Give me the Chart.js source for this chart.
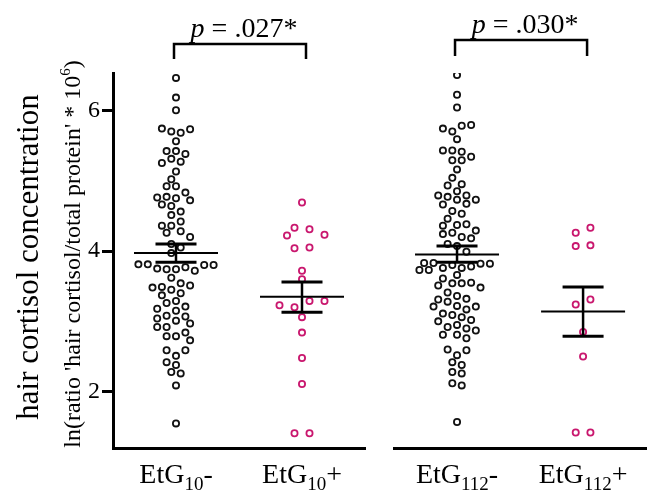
<!DOCTYPE html>
<html>
<head>
<meta charset="utf-8">
<script src="https://cdn.jsdelivr.net/npm/chart.js@4.4.1/dist/chart.umd.min.js"></script>
<style>
  html, body { margin: 0; padding: 0; background: #fff; }
  #wrap { position: relative; width: 651px; height: 492px; }
  #wrap canvas { position: absolute; left: 0; top: 0; }
</style>
</head>
<body>
<div id="wrap">
  <canvas id="left" width="651" height="492"></canvas>
  <canvas id="right" width="651" height="492"></canvas>
</div>
<script>
// group labels: [base, subscript, sign]
const groupLabels = [["EtG", "10", "-"], ["EtG", "10", "+"], ["EtG", "112", "-"], ["EtG", "112", "+"]]

// individual values (roughly left to right within a row)
const etg10Neg = [
  6.46, 6.18, 6.00,
  5.74, 5.70, 5.68, 5.73, 5.56,
  5.42, 5.42, 5.38, 5.31, 5.27, 5.25, 5.13,
  5.02, 4.92, 4.92, 4.83, 4.75, 4.77, 4.66, 4.72, 4.76, 4.64,
  4.56, 4.51, 4.42, 4.36, 4.36, 4.28, 4.26, 4.20,
  4.10, 4.05, 3.97,
  3.81, 3.81, 3.75, 3.74, 3.74, 3.77, 3.72, 3.80, 3.80,
  3.62,
  3.45, 3.54, 3.49, 3.51, 3.48,
  3.40, 3.37, 3.26, 3.29,
  3.18, 3.21, 3.15, 3.08, 3.07,
  3.01, 3.04, 2.92, 2.97, 2.92,
  2.79, 2.79, 2.84, 2.73,
  2.59, 2.51, 2.59, 2.42, 2.38, 2.28, 2.26, 2.09, 1.55
]
const etg10Pos = [4.69, 4.33, 4.31, 4.22, 4.23, 4.04, 4.05, 3.72, 3.60, 3.23, 3.20, 3.29, 3.29, 3.06, 2.84, 2.48, 2.11, 1.41, 1.41]
const etg112Neg = [
  6.50, 6.22, 6.04,
  5.74, 5.70, 5.78, 5.79, 5.59,
  5.43, 5.43, 5.41, 5.34, 5.29, 5.29, 5.16,
  5.04, 4.95, 4.93, 4.85, 4.77, 4.73, 4.79, 4.79, 4.73, 4.67, 4.66,
  4.57, 4.53, 4.46, 4.37, 4.36, 4.38, 4.29, 4.24, 4.26, 4.20, 4.18,
  4.07, 4.10, 3.99,
  3.83, 3.83, 3.76, 3.73, 3.73, 3.80, 3.76, 3.78, 3.82, 3.82,
  3.66, 3.61,
  3.51, 3.54, 3.54, 3.55, 3.48, 3.41, 3.36,
  3.28, 3.32, 3.31, 3.17, 3.21, 3.22, 3.21,
  3.11, 3.09, 3.06, 3.02, 3.00, 2.95, 2.92, 2.90,
  2.81, 2.81, 2.87, 2.76,
  2.60, 2.52, 2.59, 2.42, 2.38, 2.28, 2.26, 2.12, 2.09, 1.57
]
const etg112Pos = [4.26, 4.33, 4.07, 4.08, 3.24, 3.31, 2.85, 2.50, 1.42, 1.42]

// mean and SEM limits per group
const means = [3.97, 3.35, 3.95, 3.14]
const semHigh = [4.10, 3.56, 4.07, 3.49]
const semLow = [3.84, 3.13, 3.84, 2.79]

const yTicks = [2, 4, 6]
const pTexts = [".027*", ".030*"]

const groupValues = [etg10Neg, etg10Pos, etg112Neg, etg112Pos]
const dotColors = ["#111111", "#c9176e", "#111111", "#c9176e"]
const dotSpacing = [9.4, 15, 9.4, 14.7]
const SERIF = "'Liberation Serif', 'Times New Roman', serif"

// scatter spread: near-equal values try a centred row first,
// otherwise each point takes the nearest free slot (beeswarm)
function swarm(values, pxX, pxY, spacing, rowGap, hitGap) {
  const order = values.map((v, i) => i).sort((a, b) => values[b] - values[a])
  const rows = []
  order.forEach(i => {
    const row = rows[rows.length - 1]
    if (row && (values[row[0]] - values[i]) * pxY < rowGap) row.push(i)
    else rows.push([i])
  })

  const placed = []
  const offsets = new Array(values.length).fill(0)
  const hits = (x, y) => placed.some(p => ((p.x - x) / spacing) ** 2 + ((p.y - y) / hitGap) ** 2 < 0.999)

  rows.forEach(row => {
    row.sort((a, b) => a - b)
    const sym = row.map((i, k) => (k - (row.length - 1) / 2) * spacing)
    if (!row.some((i, k) => hits(sym[k], values[i] * pxY))) {
      row.forEach((i, k) => {
        offsets[i] = sym[k]
        placed.push({ x: sym[k], y: values[i] * pxY })
      })
      return
    }
    row.forEach(i => {
      const py = values[i] * pxY
      for (let k = 0; k < 60; k++) {
        const step = k === 0 ? 0 : (k % 2 ? -1 : 1) * Math.ceil(k / 2) * spacing / 2
        if (!hits(step, py)) {
          offsets[i] = step
          placed.push({ x: step, y: py })
          break
        }
      }
    })
  })
  return offsets.map(o => o / pxX)
}

const decorations = {
  id: "decorations",
  afterDatasetsDraw(chart, args, opts) {
    const { ctx, scales: { x, y } } = chart
    ctx.save()
    ctx.strokeStyle = "#000"
    ctx.fillStyle = "#000"

    opts.groups.forEach((g, pos) => {
      const cx = x.getPixelForValue(pos)
      // mean line
      ctx.lineWidth = 2
      ctx.beginPath()
      ctx.moveTo(cx - 42, y.getPixelForValue(means[g]))
      ctx.lineTo(cx + 42, y.getPixelForValue(means[g]))
      ctx.stroke()
      // SEM
      ctx.lineWidth = 2.5
      ctx.beginPath()
      ctx.moveTo(cx, y.getPixelForValue(semHigh[g]))
      ctx.lineTo(cx, y.getPixelForValue(semLow[g]))
      ctx.stroke()
      ctx.lineWidth = 3
      ;[semHigh[g], semLow[g]].forEach(v => {
        ctx.beginPath()
        ctx.moveTo(cx - 20.5, y.getPixelForValue(v))
        ctx.lineTo(cx + 20.5, y.getPixelForValue(v))
        ctx.stroke()
      })

      // category label with subscript
      const [base, sub, sign] = groupLabels[g]
      ctx.font = "28px " + SERIF
      const wBase = ctx.measureText(base).width
      const wSign = ctx.measureText(sign).width
      ctx.font = "19px " + SERIF
      const wSub = ctx.measureText(sub).width
      let lx = cx - (wBase + wSub + wSign) / 2
      const by = 483
      ctx.textAlign = "left"
      ctx.textBaseline = "alphabetic"
      ctx.font = "28px " + SERIF
      ctx.fillText(base, lx, by)
      lx += wBase
      ctx.font = "19px " + SERIF
      ctx.fillText(sub, lx, by + 7)
      lx += wSub
      ctx.font = "28px " + SERIF
      ctx.fillText(sign, lx, by)
    })

    // significance bracket
    const b = opts.bracket
    const x0 = x.getPixelForValue(0) - 2
    const x1 = x.getPixelForValue(1) + 4
    ctx.lineWidth = 2.5
    ctx.beginPath()
    ctx.moveTo(x0, b.bottom)
    ctx.lineTo(x0, b.top)
    ctx.lineTo(x1, b.top)
    ctx.lineTo(x1, b.bottom)
    ctx.stroke()

    ctx.font = "italic 28px " + SERIF
    const wp = ctx.measureText("p").width
    ctx.font = "28px " + SERIF
    const rest = " = " + b.text
    const wr = ctx.measureText(rest).width
    let tx = (x0 + x1) / 2 + 4 - (wp + wr) / 2
    ctx.textAlign = "left"
    ctx.font = "italic 28px " + SERIF
    ctx.fillText("p", tx, b.textY)
    ctx.font = "28px " + SERIF
    ctx.fillText(rest, tx + wp, b.textY)
    ctx.restore()
  }
}

const yTitle = {
  id: "yTitle",
  afterDraw(chart) {
    const { ctx } = chart
    ctx.save()
    ctx.fillStyle = "#000"
    ctx.textBaseline = "alphabetic"

    ctx.save()
    ctx.translate(38, 257)
    ctx.rotate(-Math.PI / 2)
    ctx.textAlign = "center"
    ctx.font = "31px " + SERIF
    ctx.fillText("hair cortisol concentration", 0, 0)
    ctx.restore()

    ctx.save()
    ctx.translate(80, 254)
    ctx.rotate(-Math.PI / 2)
    ctx.textAlign = "left"
    const main = "ln(ratio 'hair cortisol/total protein' * 10"
    ctx.font = "24px " + SERIF
    const w1 = ctx.measureText(main).width
    const w3 = ctx.measureText(")").width
    ctx.font = "15px " + SERIF
    const w2 = ctx.measureText("6").width
    let p = -(w1 + w2 + w3) / 2
    ctx.font = "24px " + SERIF
    ctx.fillText(main, p, 0)
    p += w1
    ctx.font = "15px " + SERIF
    ctx.fillText("6", p, -10)
    p += w2
    ctx.font = "24px " + SERIF
    ctx.fillText(")", p, 0)
    ctx.restore()

    ctx.restore()
  }
}

function buildDataset(g, pos) {
  return {
    data: groupValues[g].map(v => ({ x: pos, y: v })),
    borderColor: dotColors[g],
    backgroundColor: "rgba(0,0,0,0)",
    borderWidth: 1.8,
    pointRadius: 3.1,
    pointHoverRadius: 3.1
  }
}

function buildChart(canvas, groups, showY, padding, bracket) {
  return new Chart(canvas, {
    type: "scatter",
    data: { datasets: groups.map((g, pos) => buildDataset(g, pos)) },
    options: {
      responsive: false,
      animation: false,
      events: [],
      layout: { padding },
      plugins: {
        legend: { display: false },
        tooltip: { enabled: false },
        decorations: { groups, bracket }
      },
      scales: {
        x: {
          type: "linear",
          min: -0.5,
          max: 1.5,
          ticks: { display: false },
          grid: { display: false },
          border: { display: true, width: 3, color: "#000" },
          afterFit: (s) => { s.height = 44 }
        },
        y: {
          display: showY,
          min: 1.2,
          max: 6.53,
          afterBuildTicks: (s) => { s.ticks = yTicks.map(v => ({ value: v })) },
          ticks: { color: "#000", padding: 2, font: { family: SERIF, size: 24 } },
          grid: { drawOnChartArea: false, drawTicks: true, tickLength: 11, tickWidth: 3, tickColor: "#000" },
          border: { display: true, width: 3, color: "#000" },
          afterFit: (s) => { s.width = showY ? 113 : 0 }
        }
      }
    },
    plugins: showY ? [decorations, yTitle] : [decorations]
  })
}

function spread(chart, groups) {
  const { x, y } = chart.scales
  const pxX = x.getPixelForValue(1) - x.getPixelForValue(0)
  const pxY = y.getPixelForValue(0) - y.getPixelForValue(1)
  chart.data.datasets.forEach((ds, pos) => {
    const g = groups[pos]
    const vals = groupValues[g]
    const offs = swarm(vals, pxX, pxY, dotSpacing[g], 6.5, 8)
    ds.data = vals.map((v, i) => ({ x: pos + offs[i], y: v }))
  })
  chart.update()
}

const leftChart = buildChart(document.getElementById("left"), [0, 1], true,
  { left: 0, right: 651 - 365, top: 73, bottom: 0 },
  { top: 44, bottom: 59, textY: 37, text: pTexts[0] })
const rightChart = buildChart(document.getElementById("right"), [2, 3], false,
  { left: 394, right: 0, top: 73, bottom: 0 },
  { top: 40, bottom: 56, textY: 33, text: pTexts[1] })

spread(leftChart, [0, 1])
spread(rightChart, [2, 3])
</script>
</body>
</html>
